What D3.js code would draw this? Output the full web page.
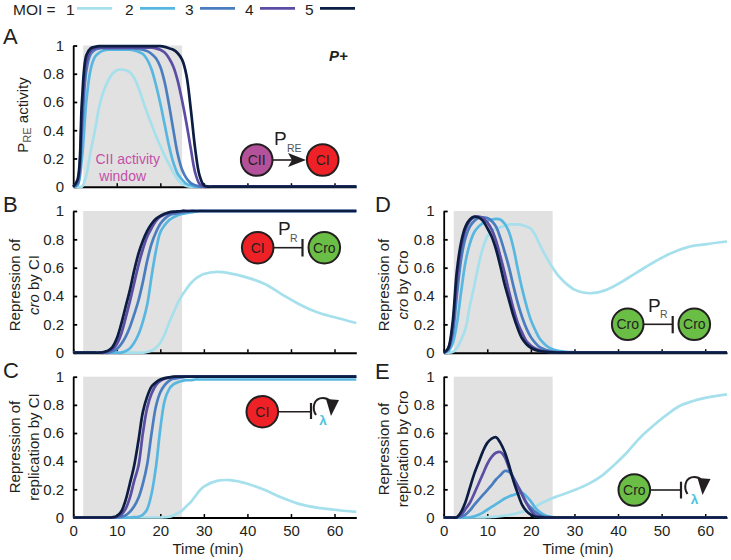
<!DOCTYPE html>
<html><head><meta charset="utf-8">
<script src="https://cdn.jsdelivr.net/npm/d3@7/dist/d3.min.js"></script>
<style>
html,body{margin:0;padding:0;background:#fff}
svg{display:block}
text{font-family:"Liberation Sans",Arial,sans-serif;fill:#231f20}
</style></head><body>
<svg id="c" width="731" height="560"></svg>
<script>
const moiLabels = ["1","2","3","4","5"];
const moiColors = ["#a6e0ec","#58b7e0","#4a7dbf","#5a4da3","#0b1d42"];
const yTicks = [0,0.2,0.4,0.6,0.8,1];
const xTicks = [0,10,20,30,40,50,60];
const windowStart = 2.3, windowEnd = 25;

const timesA = [0,1,2,3,4,5,6,7,8,9,10,11,12,13,14,15,16,17,18,19,20,21,22,23,24,25,26,27,28,29,30,31,32,40,65];
const a1 = [0,0,0,.08,.25,.4,.57,.68,.75,.8,.825,.83,.825,.81,.77,.7,.61,.52,.44,.36,.29,.22,.16,.1,.05,.02,.005,0,0,0,0,0,0,0,0];
const a2 = [0,.01,.2,.6,.83,.92,.95,.965,.97,.97,.97,.97,.97,.97,.965,.955,.94,.9,.83,.72,.59,.44,.29,.17,.09,.05,.02,.01,0,0,0,0,0,0,0];
const a3 = [0,.02,.4,.82,.94,.97,.98,.98,.98,.98,.98,.98,.98,.98,.98,.975,.97,.96,.94,.91,.85,.74,.58,.4,.23,.12,.06,.025,.01,0,0,0,0,0,0];
const a4 = [0,.04,.5,.88,.96,.98,.985,.985,.985,.985,.985,.985,.985,.985,.985,.985,.985,.985,.985,.98,.97,.95,.91,.85,.75,.61,.45,.27,.1,.02,0,0,0,0,0];
const a5 = [0,.05,.6,.93,.98,.99,.995,.995,.995,.995,.995,.995,.995,.995,.995,.995,.995,.995,.995,.995,.995,.99,.98,.97,.945,.9,.79,.55,.27,.08,.01,0,0,0,0];

const timesBC = [0,1,2,3,4,5,6,7,8,9,10,11,12,13,14,15,16,17,18,19,20,21,22,23,24,25,26,27,28,29,30,33,36,40,44,48,52,56,60,65];
const b1 = [0,0,0,0,0,0,0,0,0,0,0,0,0,0,0,0,0,.005,.015,.035,.07,.13,.21,.28,.35,.405,.45,.49,.52,.54,.555,.57,.56,.53,.485,.41,.34,.285,.25,.21];
const b2 = [0,0,0,0,0,0,0,0,0,0,0,0,.01,.03,.07,.13,.22,.34,.54,.72,.85,.9,.935,.955,.97,.98,.985,.99,.995,1,1,1,1,1,1,1,1,1,1,1];
const b3 = [0,0,0,0,0,0,0,0,0,.01,.025,.06,.11,.18,.27,.37,.5,.65,.77,.85,.91,.945,.97,.98,.985,.99,.995,1,1,1,1,1,1,1,1,1,1,1,1,1];
const b4 = [0,0,0,0,0,0,0,0,.01,.025,.06,.13,.24,.36,.49,.62,.73,.82,.88,.93,.96,.975,.985,.99,.995,1,1,1,1,1,1,1,1,1,1,1,1,1,1,1];
const b5 = [0,0,0,0,0,0,0,.005,.015,.04,.1,.2,.32,.44,.58,.7,.79,.86,.91,.945,.965,.98,.99,.995,.997,1,1,1,1,1,1,1,1,1,1,1,1,1,1,1];

const c1 = [0,0,0,0,0,0,0,0,0,0,0,0,0,0,0,0,0,0,0,0,0,.002,.005,.015,.03,.05,.08,.11,.15,.19,.22,.26,.265,.24,.195,.14,.095,.07,.055,.04];
const c2 = [0,0,0,0,0,0,0,0,0,0,0,0,0,0,.002,.005,.02,.06,.17,.36,.63,.83,.91,.945,.96,.97,.975,.975,.98,.98,.98,.98,.98,.98,.98,.98,.98,.98,.98,.98];
const c3 = [0,0,0,0,0,0,0,0,0,0,0,.005,.015,.04,.08,.14,.24,.38,.6,.79,.89,.94,.97,.985,.99,.995,1,1,1,1,1,1,1,1,1,1,1,1,1,1];
const c4 = [0,0,0,0,0,0,0,0,0,0,.005,.02,.06,.14,.26,.37,.6,.78,.88,.94,.97,.985,.993,.997,1,1,1,1,1,1,1,1,1,1,1,1,1,1,1,1];
const c5 = [0,0,0,0,0,0,0,0,0,.002,.01,.04,.12,.24,.37,.55,.75,.86,.93,.96,.98,.99,.995,1,1,1,1,1,1,1,1,1,1,1,1,1,1,1,1,1];

const timesD = [0,1,2,3,4,5,6,7,8,9,10,11,12,13,14,15,16,17,18,19,20,21,22,23,24,25,26,27,28,30,32,34,37,40,44,48,52,56,60,65];
const d1 = [0,0,.005,.03,.09,.17,.33,.47,.62,.74,.82,.86,.875,.885,.895,.905,.905,.905,.9,.89,.875,.83,.765,.705,.65,.6,.555,.52,.49,.445,.425,.42,.44,.485,.56,.635,.7,.745,.765,.785];
const d2 = [0,.01,.06,.2,.43,.64,.77,.85,.89,.915,.93,.94,.945,.94,.91,.85,.74,.59,.45,.33,.23,.16,.1,.065,.04,.025,.015,.01,.006,.003,.001,0,0,0,0,0,0,0,0,0];
const d3s = [0,.02,.12,.4,.66,.81,.89,.93,.95,.955,.95,.93,.89,.81,.71,.6,.47,.35,.25,.17,.11,.07,.04,.025,.015,.008,.005,.003,.002,.001,0,0,0,0,0,0,0,0,0,0];
const d4 = [0,.025,.17,.5,.74,.87,.93,.955,.96,.95,.92,.87,.79,.68,.56,.43,.31,.21,.14,.08,.05,.03,.017,.01,.006,.003,.002,.001,0,0,0,0,0,0,0,0,0,0,0,0];
const d5 = [0,.03,.2,.57,.78,.89,.94,.96,.955,.93,.88,.82,.73,.61,.48,.37,.26,.17,.1,.06,.035,.02,.012,.007,.004,.002,.001,0,0,0,0,0,0,0,0,0,0,0,0,0];

const timesE = [0,1,2,3,4,5,6,7,8,9,10,11,12,13,14,15,16,17,18,19,20,21,22,23,24,25,26,27,30,33,36,39,42,45,48,51,54,57,60,65];
const e1 = [0,0,0,0,0,0,0,0,0,.001,.002,.004,.006,.009,.013,.018,.024,.032,.04,.05,.063,.078,.095,.11,.125,.138,.15,.16,.195,.235,.29,.37,.46,.565,.65,.725,.79,.825,.85,.875];
const e2 = [0,0,0,0,0,0,.002,.008,.02,.035,.055,.075,.095,.115,.135,.15,.16,.17,.175,.15,.115,.07,.04,.02,.008,.003,.001,0,0,0,0,0,0,0,0,0,0,0,0,0];
const e3 = [0,0,0,0,.005,.02,.05,.09,.125,.16,.195,.23,.27,.3,.33,.325,.28,.225,.17,.105,.07,.04,.018,.006,.002,0,0,0,0,0,0,0,0,0,0,0,0,0,0,0];
const e4 = [0,0,0,.001,.02,.06,.105,.17,.24,.31,.38,.43,.46,.465,.43,.35,.28,.22,.16,.1,.05,.015,.004,.001,0,0,0,0,0,0,0,0,0,0,0,0,0,0,0,0];
const e5 = [0,0,0,.002,.04,.11,.21,.31,.39,.47,.53,.56,.57,.53,.465,.37,.26,.17,.09,.045,.02,.005,.002,0,0,0,0,0,0,0,0,0,0,0,0,0,0,0,0,0];

const svg = d3.select("#c");
const INK = "#231f20";
const LEFT = [73.2, 356.3], RIGHT = [443.7, 727];
const ROW1 = [186.7, 45.5], ROW2 = [352.7, 211], ROW3 = [517.5, 376.7];

function panel(xr, yr, times, series, showX){
  const x = d3.scaleLinear([0,65], xr), y = d3.scaleLinear([0,1], yr);
  const g = svg.append("g");
  g.append("rect").attr("x", x(windowStart)).attr("y", y(1))
    .attr("width", x(windowEnd)-x(windowStart)).attr("height", y(0)-y(1)).attr("fill","#e1e1e1");
  const xa = d3.axisBottom(x).tickValues(xTicks).tickSizeInner(-3.5).tickSizeOuter(0)
    .tickFormat(showX ? d3.format("d") : "");
  const xg = g.append("g").attr("transform",`translate(0,${y(0)})`).call(xa);
  xg.select(".domain").attr("stroke","#000").attr("stroke-width",2);
  xg.selectAll("line").attr("stroke","#000").attr("stroke-width",1.5);
  xg.selectAll("text").attr("font-size",15).attr("dy","1.02em").attr("fill",INK);
  const ya = d3.axisLeft(y).tickValues(yTicks).tickSizeInner(-4).tickSizeOuter(0).tickPadding(9)
    .tickFormat(d3.format("~g"));
  const yg = g.append("g").attr("transform",`translate(${xr[0]},0)`).call(ya);
  yg.select(".domain").attr("stroke","#000").attr("stroke-width",1.8);
  yg.selectAll("line").attr("stroke","#000").attr("stroke-width",1.8);
  yg.selectAll("text").attr("font-size",15).attr("fill",INK);
  const line = d3.line().x((d,i)=>x(times[i])).y(d=>y(d)).curve(d3.curveCatmullRom.alpha(0.5));
  series.forEach((s,i)=>{
    g.append("path").attr("d",line(s)).attr("fill","none")
      .attr("stroke",moiColors[i]).attr("stroke-width",2.7).attr("stroke-linejoin","round");
  });
}
panel(LEFT,ROW1,timesA,[a1,a2,a3,a4,a5],false);
panel(LEFT,ROW2,timesBC,[b1,b2,b3,b4,b5],false);
panel(LEFT,ROW3,timesBC,[c1,c2,c3,c4,c5],true);
panel(RIGHT,ROW2,timesD,[d1,d2,d3s,d4,d5],false);
panel(RIGHT,ROW3,timesE,[e1,e2,e3,e4,e5],true);

function txt(x,y,s,o={}){
  const t = svg.append("text").attr("x",x).attr("y",y).text(s)
    .attr("font-size",o.size||15).attr("text-anchor",o.anchor||"start");
  if(o.fill) t.style("fill",o.fill);
  if(o.weight) t.attr("font-weight",o.weight);
  if(o.italic) t.attr("font-style","italic");
  return t;
}
// panel letters
[["A",3,44],["B",3,212],["C",3,378],["D",375,212],["E",375,379]].forEach(d=>txt(d[1],d[2],d[0],{size:22}));

// legend
txt(13,14.5,"MOI =",{size:15.5});
const legText = [66,125,185,245,305], legLine = [77,140,200,260,320];
moiLabels.forEach((m,i)=>{
  txt(legText[i],14.5,m,{size:15.5});
  svg.append("line").attr("x1",legLine[i]).attr("x2",legLine[i]+35).attr("y1",8.3).attr("y2",8.3)
    .attr("stroke",moiColors[i]).attr("stroke-width",2.8);
});

// y labels
function yLabel(xb,yc,parts){
  const t = svg.append("text").attr("transform",`translate(${xb},${yc}) rotate(-90)`)
    .attr("text-anchor","middle").attr("font-size",15);
  parts.forEach(p=>{
    const s = t.append("tspan").text(p[0]);
    if(p[1]==="i") s.attr("font-style","italic");
    if(p[1]==="sub") s.attr("font-size",11).attr("dy",3).style("fill","#555");
    if(p[2]) s.attr("dy",p[2]);
  });
}
yLabel(28,115,[["P"],["RE","sub"],[" activity",null,-3]]);
yLabel(20,285,[["Repression of"]]);
yLabel(39,285,[["cro","i"],[" by CI"]]);
yLabel(20,447,[["Repression of"]]);
yLabel(39,447,[["replication by CI"]]);
yLabel(389,285,[["Repression of"]]);
yLabel(408,285,[["cro","i"],[" by Cro"]]);
yLabel(389,449,[["Repression of"]]);
yLabel(408,449,[["replication by Cro"]]);

// x labels
txt(208,554,"Time (min)",{anchor:"middle"});
txt(578,554,"Time (min)",{anchor:"middle"});

// annotations
txt(127.7,164,"CII activity",{anchor:"middle",size:14,fill:"#c44fa8"});
txt(122.7,181,"window",{anchor:"middle",size:14,fill:"#c44fa8"});
txt(329,61,"P+",{size:15,weight:"bold",italic:true});

// network glyphs
function node(cx,cy,label,fill,size){
  svg.append("circle").attr("cx",cx).attr("cy",cy).attr("r",15.8).attr("fill",fill)
    .attr("stroke",INK).attr("stroke-width",2);
  txt(cx,cy+5,label,{anchor:"middle",size:size||14});
}
function seg(x1,y1,x2,y2,w){
  svg.append("line").attr("x1",x1).attr("y1",y1).attr("x2",x2).attr("y2",y2)
    .attr("stroke",INK).attr("stroke-width",w||1.6);
}
function promoter(x,y,sub,sx,sy){
  txt(x,y,"P",{size:19});
  txt(sx,sy,sub,{size:10.5,fill:"#555"});
}
function replication(cx,cy){
  svg.append("path").attr("fill","none").attr("stroke",INK).attr("stroke-width",2)
    .attr("d",`M${cx-5},${cy+7} C${cx-9},${cy+1} ${cx-8},${cy-10} ${cx+2},${cy-10} C${cx+5},${cy-10} ${cx+7},${cy-9} ${cx+9},${cy-7}`);
  svg.append("path").attr("fill",INK)
    .attr("d",`M${cx+5},${cy-9} L${cx+18},${cy-8} L${cx+10},${cy+8} Z`);
  txt(cx+2,cy+17,"λ",{anchor:"middle",size:13.5,fill:"#4cc3dc",weight:"bold"});
}
const PURPLE="#b4519b", RED="#ee2126", GREEN="#6abd45";

node(256.7,160,"CII",PURPLE);
node(322.7,160,"CI",RED);
seg(273,160,292,160);
svg.append("path").attr("fill",INK).attr("d","M288,153 L306,160 L288,167 L292,160 Z");
promoter(274,145,"RE",287,151.5);

node(257.7,247.7,"CI",RED);
node(324.3,247.7,"Cro",GREEN);
seg(273,247.7,302,247.7);
seg(302.5,239,302.5,256.5,2.2);
promoter(278,235,"R",290,241.5);

node(262.3,411.7,"CI",RED);
seg(278,411.7,311,411.7);
seg(311,403,311,419,2.2);
replication(321,408);

node(627.7,324.3,"Cro",GREEN);
node(694.3,324.3,"Cro",GREEN);
seg(643,324.3,673,324.3);
seg(672.7,316,672.7,333.3,2.2);
promoter(648,312,"R",660,318);

node(634.3,490,"Cro",GREEN);
seg(650,490,681,490);
seg(681,481.7,681,498.5,2.2);
replication(692.5,487);
</script>
</body></html>
